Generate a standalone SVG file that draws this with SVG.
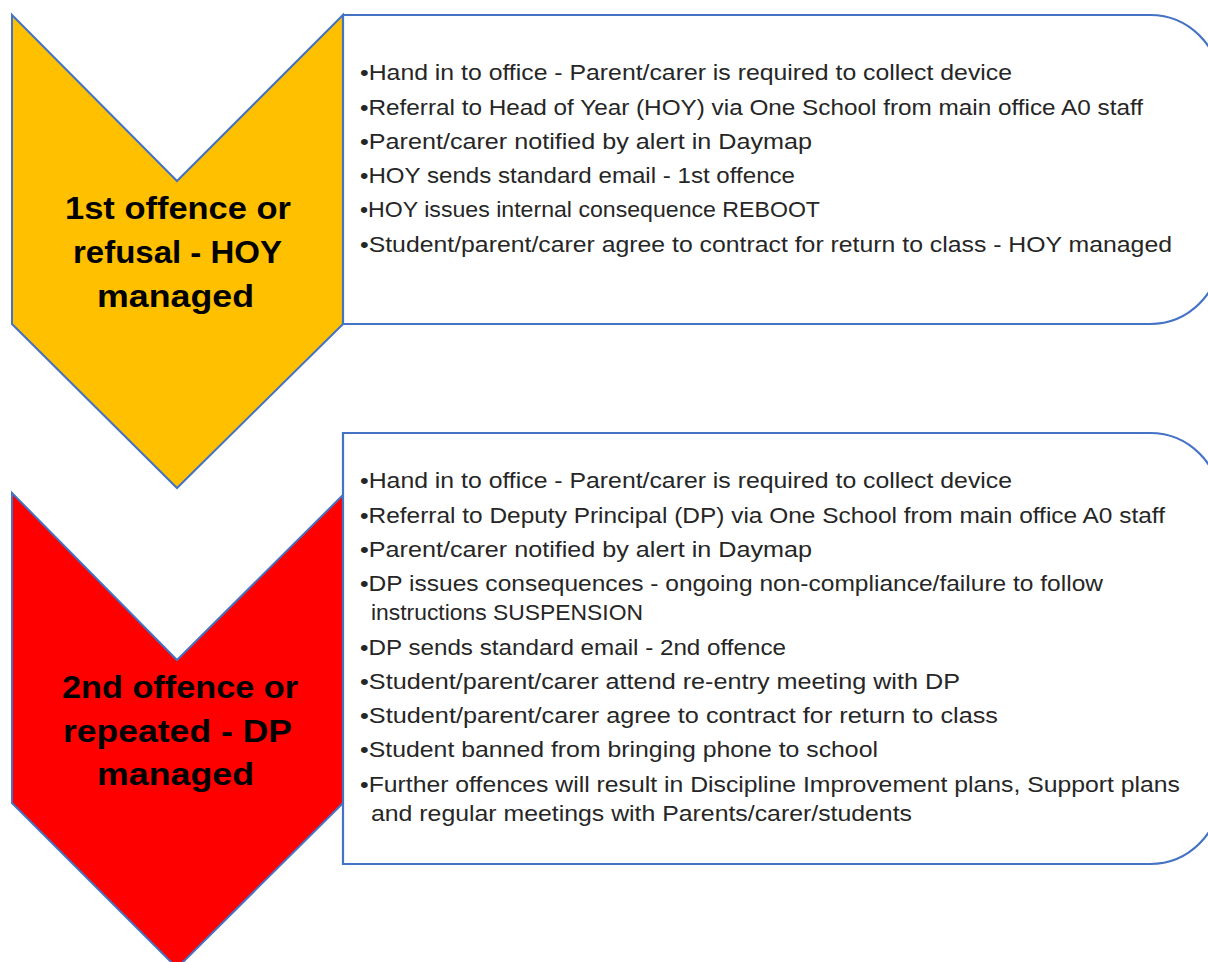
<svg xmlns="http://www.w3.org/2000/svg" width="1208" height="962" viewBox="0 0 1208 962">
<style>
.chev{stroke:#4472C4;stroke-width:2;stroke-linejoin:miter}
.box{fill:#fff;stroke:#4472C4;stroke-width:2.2}
.lbl{font-family:"Liberation Sans",Arial,sans-serif;font-weight:bold;font-size:32px;fill:#000;text-anchor:start}
.body{font-family:"Liberation Sans",Arial,sans-serif;font-size:21.5px;fill:#262626}
</style>
<rect width="1208" height="962" fill="#fff"/>
<g id="chevron1">
<polygon class="chev" fill="#FFC000" points="12,15 177,181 343,15 343,324 177,488 12,324"/>
<text class="lbl" x="65" y="219" textLength="226" lengthAdjust="spacingAndGlyphs">1st offence or</text>
<text class="lbl" x="73" y="263" textLength="209" lengthAdjust="spacingAndGlyphs">refusal - HOY</text>
<text class="lbl" x="97" y="307" textLength="157" lengthAdjust="spacingAndGlyphs">managed</text>
</g>
<g id="chevron2">
<polygon class="chev" fill="#FF0000" points="12,493 177,660 343,495 343,803 177,968 12,803"/>
<text class="lbl" x="62" y="698" textLength="236" lengthAdjust="spacingAndGlyphs">2nd offence or</text>
<text class="lbl" x="63" y="742" textLength="229" lengthAdjust="spacingAndGlyphs">repeated - DP</text>
<text class="lbl" x="97" y="785" textLength="157" lengthAdjust="spacingAndGlyphs">managed</text>
</g>
<g id="box1">
<path class="box" d="M343,15 H1150 A70,70 0 0 1 1220,85 V254 A70,70 0 0 1 1150,324 H343 Z"/>
<text class="body" x="360" y="80" textLength="652" lengthAdjust="spacingAndGlyphs">•Hand in to office - Parent/carer is required to collect device</text>
<text class="body" x="360" y="115" textLength="783" lengthAdjust="spacingAndGlyphs">•Referral to Head of Year (HOY) via One School from main office A0 staff</text>
<text class="body" x="360" y="149" textLength="452" lengthAdjust="spacingAndGlyphs">•Parent/carer notified by alert in Daymap</text>
<text class="body" x="360" y="183" textLength="435" lengthAdjust="spacingAndGlyphs">•HOY sends standard email - 1st offence</text>
<text class="body" x="360" y="217" textLength="460" lengthAdjust="spacingAndGlyphs">•HOY issues internal consequence REBOOT</text>
<text class="body" x="360" y="252" textLength="812" lengthAdjust="spacingAndGlyphs">•Student/parent/carer agree to contract for return to class - HOY managed</text>
</g>
<g id="box2">
<path class="box" d="M343,433 H1150 A70,70 0 0 1 1220,503 V794 A70,70 0 0 1 1150,864 H343 Z"/>
<text class="body" x="360" y="488" textLength="652" lengthAdjust="spacingAndGlyphs">•Hand in to office - Parent/carer is required to collect device</text>
<text class="body" x="360" y="523" textLength="805" lengthAdjust="spacingAndGlyphs">•Referral to Deputy Principal (DP) via One School from main office A0 staff</text>
<text class="body" x="360" y="557" textLength="452" lengthAdjust="spacingAndGlyphs">•Parent/carer notified by alert in Daymap</text>
<text class="body" x="360" y="591" textLength="743" lengthAdjust="spacingAndGlyphs">•DP issues consequences - ongoing non-compliance/failure to follow</text>
<text class="body" x="371" y="620" textLength="272" lengthAdjust="spacingAndGlyphs">instructions SUSPENSION</text>
<text class="body" x="360" y="655" textLength="426" lengthAdjust="spacingAndGlyphs">•DP sends standard email - 2nd offence</text>
<text class="body" x="360" y="689" textLength="600" lengthAdjust="spacingAndGlyphs">•Student/parent/carer attend re-entry meeting with DP</text>
<text class="body" x="360" y="723" textLength="638" lengthAdjust="spacingAndGlyphs">•Student/parent/carer agree to contract for return to class</text>
<text class="body" x="360" y="757" textLength="518" lengthAdjust="spacingAndGlyphs">•Student banned from bringing phone to school</text>
<text class="body" x="360" y="792" textLength="820" lengthAdjust="spacingAndGlyphs">•Further offences will result in Discipline Improvement plans, Support plans</text>
<text class="body" x="371" y="821" textLength="541" lengthAdjust="spacingAndGlyphs">and regular meetings with Parents/carer/students</text>
</g>
</svg>
